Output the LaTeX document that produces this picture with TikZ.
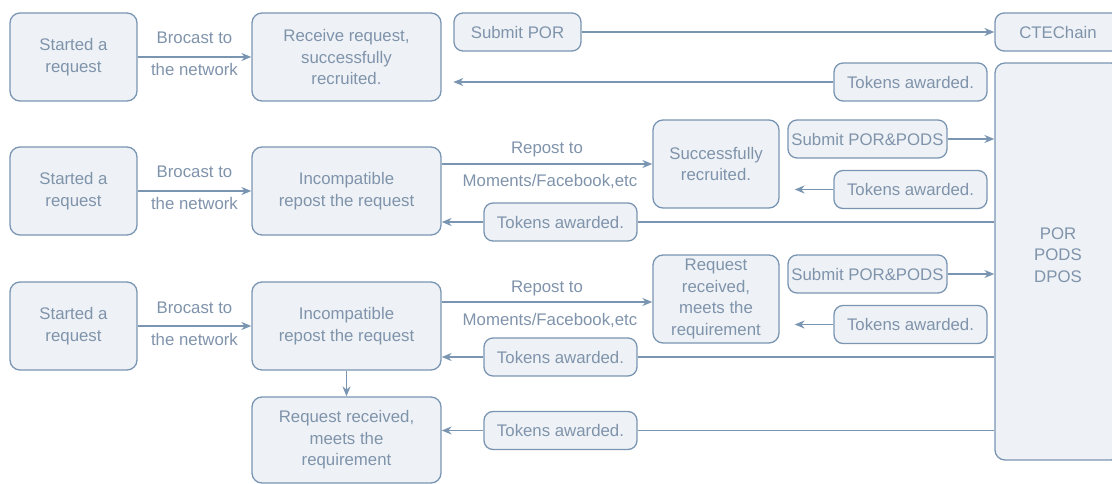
\documentclass[tikz,border=0pt]{standalone}
\usepackage{fontspec}
\setmainfont{Liberation Sans}
\usetikzlibrary{arrows.meta,calc}

\definecolor{edge}{HTML}{7A95B2}
\definecolor{boxfill}{HTML}{EEF2F6}
\definecolor{ink}{HTML}{7F93AB}

\tikzset{
  txt/.style={text=ink, font=\fontsize{16.8}{21.5}\selectfont},
  card/.style={txt, draw=edge, fill=boxfill, line width=1.3pt,
    rounded corners=10pt, align=center, inner sep=0pt},
  wide/.style={card, minimum width=189pt, minimum height=88pt},
  midbox/.style={card, minimum width=126pt, minimum height=88pt},
  startbox/.style={card, minimum width=127pt, minimum height=88pt},
  pill/.style={card, rounded corners=9pt, minimum height=38pt},
  tokens/.style={pill, minimum width=153pt},
  submit/.style={pill, minimum width=159pt},
  lbl/.style={txt, inner sep=0pt, text height=12pt, text depth=0pt},
  flow/.style={draw=edge, line width=1.3pt, -{Stealth[length=10pt,width=8pt]}},
  plain/.style={draw=edge, line width=1.3pt},
}

\begin{document}
\begin{tikzpicture}[x=1pt,y=-1pt]
\useasboundingbox (0,0) rectangle (1112,484);
\clip (0,0) rectangle (1112,484);

% consensus column on the right
\node[pill, minimum width=126pt] (cte) at (1058,32) {CTEChain};
\node[card, minimum width=126pt, minimum height=397pt] (por) at (1058,261.5) {};
\node[txt, align=center, inner sep=0pt] (porlbl) at (1058,255) {POR\\PODS\\DPOS};

% first flow: direct recruitment
\node[startbox] (s1) at (73.5,57) {Started a\\request};
\node[wide] (r1) at (346.5,57) {Receive request,\\successfully\\recruited.};
\node[pill, minimum width=127pt] (sp) at (517.5,32) {Submit POR};
\node[tokens] (tk1) at (910.5,82) {Tokens awarded.};

\draw[flow] (s1) -- (r1);
\node[lbl] (b1a) at ($(s1.east)!0.5!(r1.west)+(0,-19)$) {Brocast to};
\node[lbl] (b1b) at ($(s1.east)!0.5!(r1.west)+(0,13)$) {the network};
\draw[flow] (sp) -- (cte);
\draw[flow] (tk1.west) -- (tk1.west -| sp.west);

% second flow: repost, then recruited
\node[startbox] (s2) at (73.5,191) {Started a\\request};
\node[wide] (inc2) at (346.5,191) {Incompatible\\repost the request};
\node[midbox] (succ) at (716,164) {Successfully\\recruited.};
\node[submit] (sub2) at (867.5,139) {Submit POR\&PODS};
\node[tokens] (tkR2) at (910.5,189.5) {Tokens awarded.};
\node[tokens] (tkL2) at (560.5,222) {Tokens awarded.};

\draw[flow] (s2) -- (s2 -| inc2.west);
\node[lbl] (b2a) at ($(s2.east)!0.5!(inc2.west)+(0,-19)$) {Brocast to};
\node[lbl] (b2b) at ($(s2.east)!0.5!(inc2.west)+(0,13)$) {the network};
\draw[flow] (inc2.east |- succ) -- (succ.west);
\node[lbl] (p2a) at ($(inc2.east |- succ)!0.5!(succ.west)+(0,-16)$) {Repost to};
\node[lbl] (p2b) at ($(inc2.east |- succ)!0.5!(succ.west)+(3,17)$) {Moments/Facebook,etc};
\draw[flow] (sub2.east) -- (sub2.east -| por.west);
\coordinate (t2end) at ($(succ.east |- tkR2.west)+(15,0)$);
\draw[flow] (tkR2.west) -- (t2end);
\draw[plain] (por.west |- tkL2.east) -- (tkL2.east);
\draw[flow] (tkL2.west) -- (tkL2.west -| inc2.east);

% third flow: repost, requirement met
\node[startbox] (s3) at (73.5,326) {Started a\\request};
\node[wide] (inc3) at (346.5,326) {Incompatible\\repost the request};
\node[midbox] (req3) at (716,299) {Request\\received,\\meets the\\requirement};
\node[submit] (sub3) at (867.5,274) {Submit POR\&PODS};
\node[tokens] (tkR3) at (910.5,324.5) {Tokens awarded.};
\node[tokens] (tkL3) at (560.5,357) {Tokens awarded.};
\node[wide, minimum height=86pt] (bot) at (346.5,440) {Request received,\\meets the\\requirement};
\node[tokens] (tkB) at (560.5,430.5) {Tokens awarded.};

\draw[flow] (s3) -- (s3 -| inc3.west);
\node[lbl] (b3a) at ($(s3.east)!0.5!(inc3.west)+(0,-19)$) {Brocast to};
\node[lbl] (b3b) at ($(s3.east)!0.5!(inc3.west)+(0,13)$) {the network};
\draw[flow] (inc3.east |- 0,302) -- (req3.west |- 0,302);
\node[lbl] (p3a) at ($(inc3.east |- 0,302)!0.5!(req3.west |- 0,302)+(0,-16)$) {Repost to};
\node[lbl] (p3b) at ($(inc3.east |- 0,302)!0.5!(req3.west |- 0,302)+(3,17)$) {Moments/Facebook,etc};
\draw[flow] (sub3.east) -- (sub3.east -| por.west);
\coordinate (t3end) at ($(req3.east |- tkR3.west)+(15,0)$);
\draw[flow] (tkR3.west) -- (t3end);
\draw[plain] (por.west |- tkL3.east) -- (tkL3.east);
\draw[flow] (tkL3.west) -- (tkL3.west -| inc3.east);
\draw[flow] (inc3) -- (bot);
\draw[plain] (por.west |- tkB.east) -- (tkB.east);
\draw[flow] (tkB.west) -- (tkB.west -| bot.east);
\end{tikzpicture}
\end{document}
